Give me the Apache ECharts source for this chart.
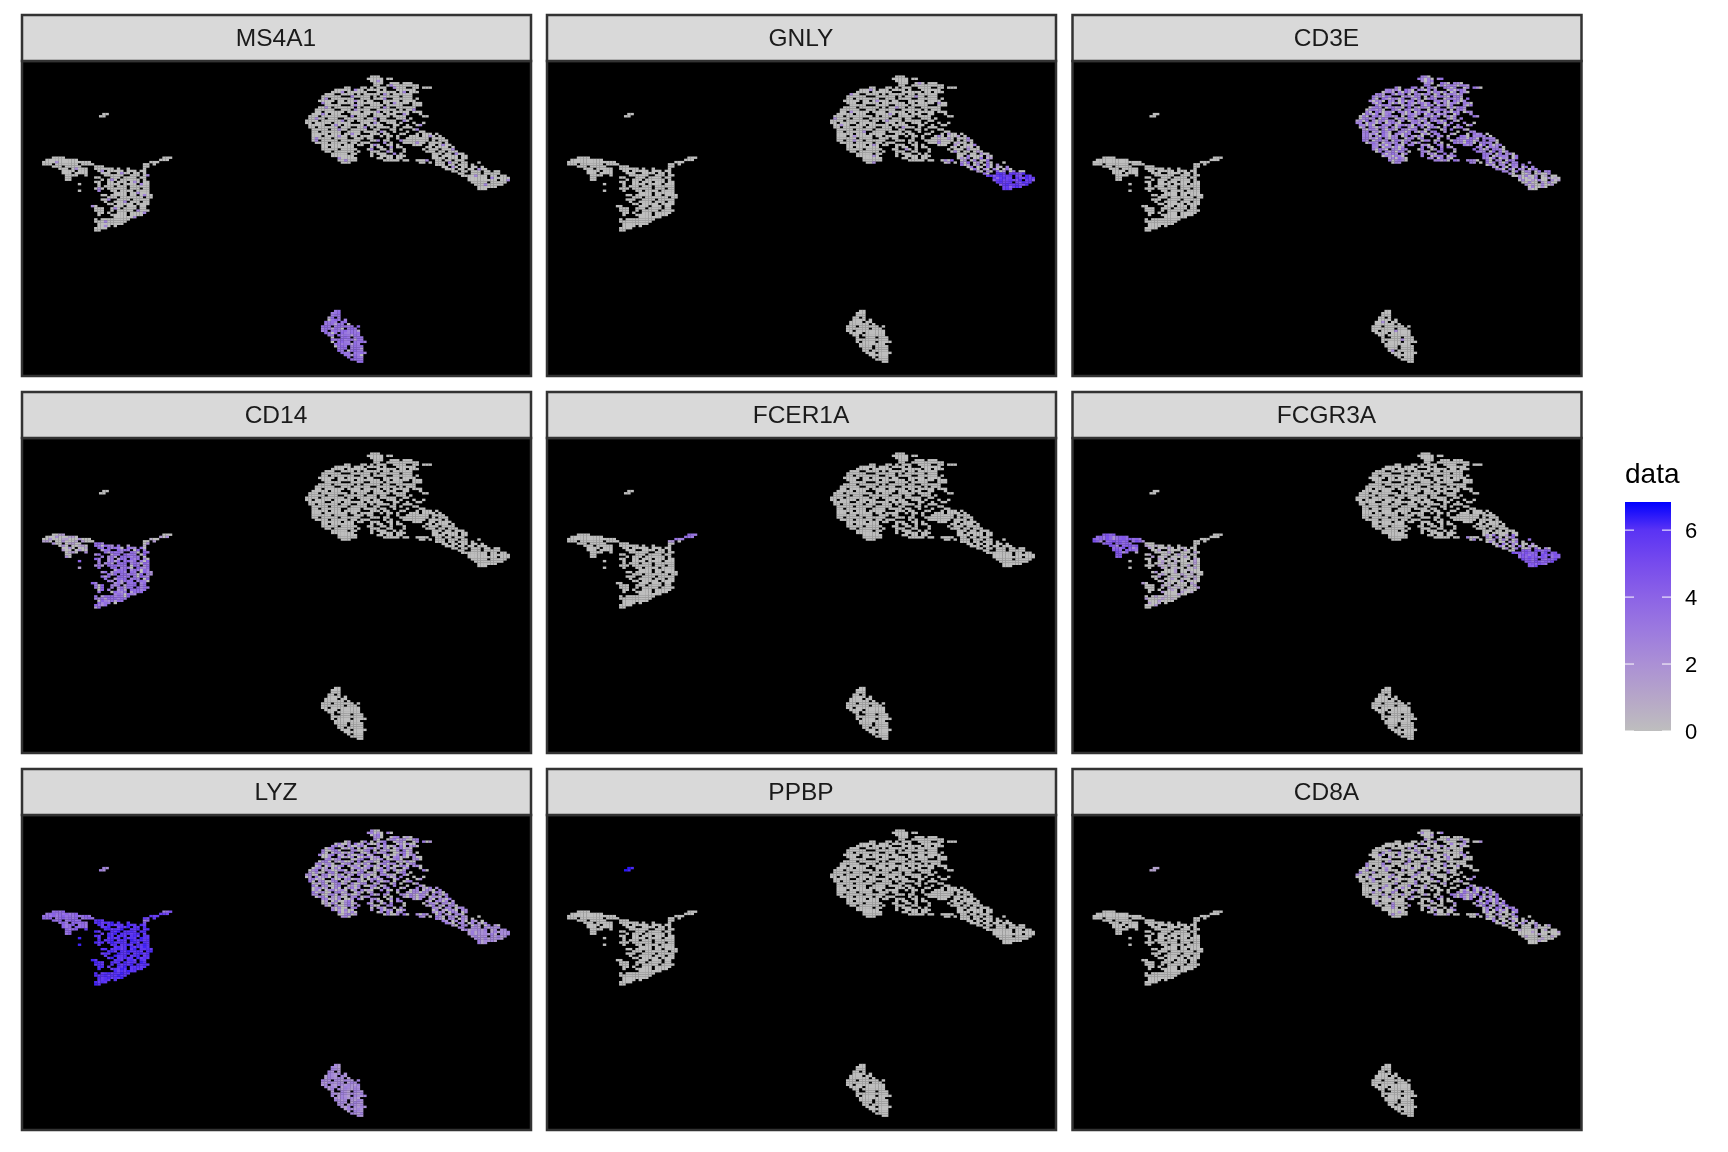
<!DOCTYPE html>
<html><head><meta charset="utf-8">
<style>html,body{margin:0;padding:0;background:#fff}#c{width:1728px;height:1152px}</style>
<script src="https://cdn.jsdelivr.net/npm/echarts@6/dist/echarts.min.js"></script>
</head><body><div id="c"></div>
<script>
const genes = ['MS4A1','GNLY','CD3E','CD14','FCER1A','FCGR3A','LYZ','PPBP','CD8A'];
const legendTicks = [0,2,4,6];
const legendMax = 6.84;

// Cell positions (grid column,row = mask offset + char position).
// Letters mark the population: m main, n tail, q lower tail, e tail end, w wing, b body, s streak, i island, B B-cells
const mainOrigin = [87.1,6.6];
const mainMask = [
"....................mmm",
"...................mmmmm.mm",
"....................mmmm",
".....................mmm..mmm.mmm",
".....................mm..mmmmmmmmmm.",
"............mm...mm.m.mmm..mmmm..mm.mmm",
".........mmmmm.mmm.mmmm.m...mmmmmm",
"........mmmm.mmmmmm...mmmmmm.mm.mmm",
"......mmm..mmmm.m.mmmmm.mm.mmmmmm",
".....mmmmmm...mmmmmm.m.mmmmmm.mmm",
".....mm.mmmmmmm..mmm.mmmm..mmmmmm.m",
"....mmmmm.mm.mmmmm.mm...mmmmm.mmmm",
".....mmm..mmmmm.mmmmmmm.mm.mmmmm.mmm",
"......mmmmm...mmmm..mmmm.mmmmm...mmm",
"....mmmm.mmmmmm.m.mmmmm.mm..mmmmmm",
"...mmmmmm..mmm.mmmmm..mmmmmm.m.mmm",
"...mm.mmmmmm.mmmm.mmmmm.mm.mmmmm.mmm",
"..mmmmm.mmm...mmmmmm.mmm.mmm..mm...m",
".mmm.mmmmmmmm.m.mmm..mmmmm.mmmm.....mm",
".mmmmm.mmm..mmmmmm.mmm.mm...mmm.m",
"mmmm.mmmmmmm.mm.mmmmmm.mmmmm..mm",
"mm.mmmmm.mmmmm...mmm.mm..mmm.m...m..m",
".mmmmm..mmm.mmmmmm.mmmmm...mm..m..mm",
".mm.mmmmmm.mmm..mmm.m.mmmm.m..mmm",
"..mmmmm.mmmmm.mmmmm..mm...mm.m...mm",
"..mm.mmmmmm..mmmm.mmmm.mm..m...m...nn",
"..mmmmm.mmm.mmmmm...mmm.mm...mm...n.nnn.n",
"..mmm.mmmmmmm.mm.mmmm..m.mm.m...nnn.nnnn.n",
"..mmmmmm.mmmm..mmm.mm....m..m..nnnnnnn.nnnn",
"..mm.mmmmm.mmmmmm...mmm.mm...nnnnnnnnn.n.nnn",
"...mmmm.mmmmm.mm.mmm....m.m...nnnnnnn.nnnn.n",
".....mmmmmm.mmm.mm..mmm..mm.m....nnn..nn.nnnn",
".....mm.mmmmmmm.....m.mm..m.mm.......nn.nnnn.n",
".....mmmmm.mmmmm...mm..mm.m...m.....n.nnn.nnnn",
"......mm.mmmmmm.m...mmm..mm...m......nnn.nn.nnn",
"........mmmmm.mm....m.mmm..m.m.........nnn.nn.nnn",
"........mmmmmmm.....m..mmmm.mmm........nn.nnnnn.nn",
"..........mmmmmm......mm.mm.mm.........qqqq.qqq.qq",
"..........mmmmmm........mmmmm.mm..qqqq..qq.qq.qqq",
"...........mmm.....................qq.q.qqq.qqq.qq...q",
"........................................qqq.qq.qqq.q",
"..........................................qq.qq.qq.qq.q",
"...........................................qqq.qq.qq.qqq",
".............................................qq.qq.qqq.qq.qq",
"...............................................qq..eee.eeeee",
"................................................eeeeeeee.ee.ee",
"..................................................eeeeee.eeeeee",
"..................................................eeeeeeeee.eee",
"...................................................eeeee.eeeee",
"....................................................eeeeeeeee",
".....................................................eeeeee",
".....................................................eee"
];
const leftOrigin = [6.2,43.4];
const leftMask = [
"...wwww..............................sss",
".wwwwwwwwww.........................sss",
"wwwwwwwwwwwwwww..................sss",
"www.wwwwwww.wwww...............ss.s",
"...www.wwwww....bbb............ss",
".....www.wwwww..bbbbbb.b..b....s",
"......wwww.www...bb.bbbbb.bbb.bs",
"......www.wwww....bbb..bbbb.bb.b",
".......wwww..b.....bbbbbb..bbb.bb",
".......ww.......bb...bbb.bbbb.bb",
".......ww.........b.bbb.bbbbbb.b",
"................bb..bb.bbb.bbb.bb",
"...........b.....b..bbbb.bbbb.bbb",
".................b.bbb.bbb.bbbbbb",
"................bbb.bbbbbb.bbb.bb",
"...........b.....b...bb.bbbb.bbbb",
"......................bbbb.bbbbbb",
"..................bb.bbbbb.bb.bbbb",
"....................bbb.bbbbbbb.bb",
"..................bbb..bbbb.bbbbb",
"...................b..bbbb.bbb.bb",
"....................bb.bbbbb.bbbb",
"...............bb.....bbb.bbb.bb",
"................bbb..bbb.bbbb.bb",
"................bbb..b.bbbbb.bbbb",
".................bb.b..bbb.bbbbb",
".................b...bbbbb.bbbb",
"......................bbbbbbb",
"................b.bbbbbbbbb",
"................bbbbbbbbbb",
".................bbbbbbbb",
".................bbbb.b",
"................bbbb",
"................bb"
];
const bOrigin = [92,113];
const bMask = [
"....BB",
"...BBB",
"...BBB",
"..BB.B",
"..BBBB.B",
".BBBB.BB",
".BBBBBB.B",
"BBB.BBBBBB.B",
"BBBBBBB.BBB",
"BB.BBBBBBBBB",
".BBBB.BBBBBB",
"..BB.BBBBBBB",
"...B..BBB.BBB",
"...BBBBBBBBBB",
"...B.BBBB.BBBB",
"....BBBBBBBB",
"....BBBB.BBBB",
".....BBB.BBBB",
".....BB.BBBBB",
"......BBB.BBBB",
".......BBBBBB",
"........B.BBB",
".........BBBB",
"...........BB"
];
const islandOrigin = [23.7,23.6];
const islandMask = [".ii","ii"];

// Estimated expression levels per population (listed levels repeat along the cells)
const rare = [0,0,0,0,0,0,0,0,0,0,0,0,1.8,0,0,0,0,0,0,0,0,0,0,0,0,0,2.1,0,0,0,0];
const faint = [0,0,0,0,0,0,0,0,0,0,0,0,0,0,0,0,0,0,1.6,0,0,0,0,0,0,0,0,0,0,0,0,0,0,0,0,0,0];
const none = [0];
const levelsMS4A1 = {m:rare,n:rare,q:rare,e:rare,w:faint,b:rare,s:none,i:none,
  B:[2.6,3,2.4,2.8,3.2,2.2,2.9,2.7,0.8,3.1,2.5,0,2.8,3.3,2.6,2.3,3]};
const levelsGNLY = {m:faint,n:[0,0,0,1.5,0,0,0,0,2.2,0,0,0,0,1,0,0,0],q:[0,1.5,0,2.5,0,0,3,0,1,0,2,0,3.5],
  e:[5,5.4,4.6,4.8,5.2,4.4,4,5.6,4.7,5.1,3.4],w:none,b:none,s:none,i:none,B:none};
const levelsCD3E = {m:[2.2,1.8,0,2.6,2,0,2.4,0,1.9,2.8,1.5,0,2.1,2.5,0.8,2.3,0,3,1.7,0],
  n:[2.4,2,0,2.8,1.6,2.2,0,3,2.5,0,1.9,2.6],q:[2.4,1.8,0,2.6,0,2.2,1.5,0,2.8,2],e:[0,0,1.6,0,0.8,0,0,2,0,0,1.2,0,2.3],
  w:none,b:none,s:none,i:none,B:faint};
const levelsCD14 = {m:none,n:none,q:none,e:none,w:[0,0,0.8,1,0,0,0,1.5,0],
  b:[2.8,3.2,2,3,2.5,0,3.4,2.2,1.5,2.9,0.8,3.1],s:[0,0,0,1,0,1.5,0.5,0],i:none,B:none};
const levelsFCER1A = {m:none,n:none,q:none,e:none,w:none,b:none,
  s:[3,2.8,2.5,3,2.6,2.4,2.8,2,2.4,1.2,1.5,0,0,0,0,0,0,0,0,0,0,0,0,0,0],i:none,B:none};
const levelsFCGR3A = {m:none,n:none,q:[0,1.5,0,2.5,0,0,1,3,0,2,0,0],e:[3.5,4,3,4.2,3.6,2.8,3.8,3.2,4.4],
  w:[3.6,4,3.2,3.8,3,3.5,2.6,4.2,3.4,1.5,3],b:[0,0,0,1,0,0,0.6,0,0,0,0,1.2,0],s:none,i:none,B:none};
const levelsLYZ = {m:[2,0,0,1.8,2.4,0,1.2,0,2.2,0,0,1.6,2.6,0,1.4],n:[1.8,0,2.2,1,0,2.4,1.4,0,2],q:[1.8,0,2.2,1,0,2.4,1.4,0,2],
  e:[1.5,2,1,2.4,0.8,1.8],w:[2.8,3.2,2.6,3.4,2.4,3,3.6],b:[5.2,5.6,5,5.4,5.8,4.8,5.5,5.1,6,5.3],
  s:[2.2,3,4.2,4.8,5,4.6,5.2,4.8,5,5.2,4.4,5],i:[2.2,1.5],B:[1.8,1.2,2,1.5,0.9,2.2]};
const levelsPPBP = {m:none,n:none,q:none,e:none,w:none,b:none,s:none,i:[6.3,5.8],B:none};
const levelsCD8A = {m:[0,0,0,0,1.8,0,0,0,0,2.2,0,0,0,1.5,0,0,0,0,0],n:[2.5,0,3,2,0,2.8,1.5,0,2.2,0,3.2,0],q:[0,2,0,0,1.5,0,0,0,2.5,0,0],
  e:[0,0,0,1,0,0,0],w:none,b:none,s:none,i:[0.8],B:none};
const geneLevels = [levelsMS4A1,levelsGNLY,levelsCD3E,levelsCD14,levelsFCER1A,levelsFCGR3A,levelsLYZ,levelsPPBP,levelsCD8A];

const clusters = [[mainOrigin,mainMask],[leftOrigin,leftMask],[bOrigin,bMask],[islandOrigin,islandMask]];
function geneData(levels){
  const counters = {}, out = [];
  clusters.forEach(([o,mask])=>mask.forEach((row,r)=>{
    for(let c=0;c<row.length;c++){
      const k=row[c];
      if(k==='.'||k===' ') continue;
      const i=counters[k]||0; counters[k]=i+1;
      const list=levels[k];
      out.push([o[0]+c+0.5,o[1]+r+0.5,list[i%list.length]]);
    }
  }));
  return out.sort((a,b)=>a[2]-b[2]);
}

const colLefts=[22,547,1072.5], rowTops=[61,438,815];
const panelW=509, panelH=315, stripH=46;
const grids=[],xAxes=[],yAxes=[],series=[],graphics=[];
genes.forEach((g,i)=>{
  const cx=colLefts[i%3], top=rowTops[Math.floor(i/3)];
  grids.push({left:cx,top:top,width:panelW,height:panelH,show:true,backgroundColor:'#000',borderColor:'#333333',borderWidth:2.5,z:1});
  xAxes.push({type:'value',gridIndex:i,min:0,max:156.6,show:false});
  yAxes.push({type:'value',gridIndex:i,min:0,max:143,inverse:true,show:false});
  series.push({type:'scatter',xAxisIndex:i,yAxisIndex:i,data:geneData(geneLevels[i]),symbol:'rect',symbolSize:[3.4,2.4],silent:true,animation:false,z:3,itemStyle:{opacity:1}});
  graphics.push({type:'rect',shape:{x:cx,y:top-stripH,width:panelW,height:stripH},style:{fill:'#d9d9d9',stroke:'#333333',lineWidth:2.5},z:5});
  graphics.push({type:'text',x:cx+panelW/2-0.5,y:top-stripH/2+1,style:{text:g,fill:'#1a1a1a',font:'24.5px "Liberation Sans"',textAlign:'center',textVerticalAlign:'middle'},z:6});
});
const gradientStops=[[0,'#bebebe'],[1,'#b6a6c8'],[2,'#ab90d5'],[3,'#9c7adf'],[4,'#8c63e6'],[5,'#774bed'],[6,'#5a33f4'],[6.84,'#0000ff']];
grids.push({left:1625,top:502,width:46,height:229,show:false});
xAxes.push({type:'value',gridIndex:9,min:0,max:1,show:false});
yAxes.push({type:'value',gridIndex:9,min:0,max:legendMax,interval:2,position:'right',
  axisLine:{show:false},axisTick:{show:false},splitLine:{show:false},
  axisLabel:{show:true,margin:14,showMaxLabel:false,formatter:'{a|{value}}',
    rich:{a:{color:'#000',fontSize:22,fontFamily:'Liberation Sans',padding:[4,0,0,0]}}}});
series.push({type:'custom',xAxisIndex:9,yAxisIndex:9,data:[[0,0]],silent:true,animation:false,clip:false,
  renderItem:(p,api)=>{
    const a=api.coord([0,legendMax]), b=api.coord([1,0]);
    const children=[{type:'rect',shape:{x:a[0],y:a[1],width:b[0]-a[0],height:b[1]-a[1]},
      style:{fill:{type:'linear',x:0,y:1,x2:0,y2:0,colorStops:gradientStops.map(s=>({offset:s[0]/legendMax,color:s[1]}))}}}];
    legendTicks.forEach(t=>{
      const y=api.coord([0,t])[1];
      children.push({type:'line',shape:{x1:a[0],y1:y,x2:a[0]+9,y2:y},style:{stroke:'#fff',lineWidth:1}});
      children.push({type:'line',shape:{x1:b[0]-9,y1:y,x2:b[0],y2:y},style:{stroke:'#fff',lineWidth:1}});
    });
    return {type:'group',children};
  }});
graphics.push({type:'text',x:1625,y:475,style:{text:'data',fill:'#000',font:'28px "Liberation Sans"',textAlign:'left',textVerticalAlign:'middle'}});

const chart=echarts.init(document.getElementById('c'),null,{renderer:'canvas'});
chart.setOption({animation:false,backgroundColor:'#fff',grid:grids,xAxis:xAxes,yAxis:yAxes,series,graphic:graphics,
  visualMap:{show:false,type:'continuous',seriesIndex:[0,1,2,3,4,5,6,7,8],dimension:2,min:0,max:legendMax,
    inRange:{color:['#bebebe','#b19ccf','#a386da','#9470e2','#8358ea','#6a40f1','#4a28f7','#0000ff']}}});
</script></body></html>
